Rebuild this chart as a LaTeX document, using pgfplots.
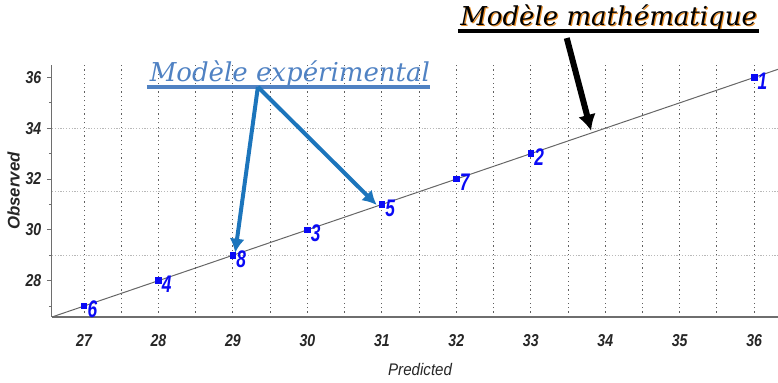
\documentclass[border=0pt]{standalone}
\usepackage{pgfplots}
\pgfplotsset{compat=1.18}
\usepackage{fontspec}
\setmainfont{Liberation Sans}
\newfontfamily\serifit{DejaVu Serif}
\usetikzlibrary{arrows.meta}
\definecolor{gridgray}{RGB}{95,95,95}
\definecolor{hgrid}{RGB}{185,185,185}
\definecolor{axgray}{RGB}{110,110,110}
\definecolor{ptblue}{RGB}{10,10,245}
\definecolor{expblue}{RGB}{80,130,195}
\definecolor{arrblue}{RGB}{28,117,188}
\definecolor{shadoworange}{RGB}{230,140,40}
\begin{document}
\begin{tikzpicture}
\begin{axis}[
  scale only axis, width=363pt, height=126pt,
  xmin=26.57, xmax=36.32, ymin=26.57, ymax=36.49,
  axis lines=left, axis line style={-, draw=axgray, line width=0.5pt},
  x axis line style={line width=1.1pt},
  /pgf/number format/assume math mode=true,
  xtick={27,28,29,30,31,32,33,34,35,36},
  minor xtick={27.5,28.5,29.5,30.5,31.5,32.5,33.5,34.5,35.5},
  ytick={28,30,32,34,36}, minor ytick={27,29,31,33,35},
  xmajorgrids, xminorgrids,
  major x grid style={draw=gridgray, line width=0.5pt, dash pattern=on 0.6pt off 1.6pt},
  minor x grid style={draw=gridgray, line width=0.5pt, dash pattern=on 0.6pt off 1.6pt},
  xtick style={draw=none},
  ytick style={draw=axgray, line width=0.5pt},
  tick align=outside, major tick length=2.5pt, minor tick length=1.5pt,
  extra y ticks={29,31.5,34}, extra y tick labels={},
  extra y tick style={ymajorgrids=true, major tick length=0pt,
    major grid style={draw=hgrid, line width=0.5pt, dash pattern=on 0.6pt off 0.8pt}},
  ticklabel style={font=\fontsize{8.6}{10}\selectfont\bfseries\itshape, text=black!85, xscale=0.82},
  xticklabel style={yshift=-2.5pt},
  yticklabel style={xshift=0pt},
  xlabel={Predicted}, ylabel={Observed},
  xlabel style={font=\fontsize{8.4}{10}\selectfont\itshape, text=black!85, xscale=0.9, at={(axis description cs:0.507,-0.21)}, anchor=center},
  ylabel style={font=\fontsize{8.4}{10}\selectfont\bfseries\itshape, text=black!85, at={(axis description cs:-0.053,0.5)}, anchor=center},
  clip=false,
]
\addplot[draw=black!60, line width=0.5pt] coordinates {(26.57,26.57) (36.32,36.32)};
\addplot[only marks, mark=square*, mark size=1.4pt, ptblue,
  point meta=explicit symbolic,
  nodes near coords,
  nodes near coords style={anchor=west, xshift=-0.8pt, yshift=-1.8pt, text=ptblue,
     font=\fontsize{12}{14}\selectfont\bfseries\itshape, xscale=0.72}]
  table[meta=l] {
x y l
27 27 6
28 28 4
29 29 8
30 30 3
31 31 5
32 32 7
33 33 2
36 36 1
};
% annotations
\path (rel axis cs:0,0) coordinate (A) (rel axis cs:1,1) coordinate (B);
\node[font=\serifit\itshape\fontsize{13}{15}\selectfont, text=expblue, anchor=base] at (axis cs:29.765,35.83) {Modèle expérimental};
\draw[expblue, line width=1.6pt] (axis cs:27.845,35.625) -- (axis cs:31.644,35.625);
\draw[arrblue, line width=2pt, -{Latex[length=7pt,width=7.5pt]}] (axis cs:29.335,35.625) -- (axis cs:29.03,29.1);
\draw[arrblue, line width=2pt, -{Latex[length=7pt,width=7.5pt]}] (axis cs:29.335,35.625) -- (axis cs:30.93,30.98);
\node[font=\serifit\itshape\fontsize{13}{15}\selectfont, text=shadoworange, anchor=base] at ([xshift=0.6pt,yshift=-0.5pt]axis cs:34.046,38.05) {Modèle mathématique};
\node[font=\serifit\itshape\fontsize{13}{15}\selectfont, text=black, anchor=base] at (axis cs:34.046,38.05) {Modèle mathématique};
\draw[black, line width=1.7pt] (axis cs:32.02,37.83) -- (axis cs:36.07,37.83);
\draw[black, line width=3pt, -{Latex[length=8pt,width=9pt]}] (axis cs:33.483,37.55) -- (axis cs:33.81,33.9);
\end{axis}
\pgfresetboundingbox
\path ([xshift=-26pt,yshift=-33pt]A) rectangle ([yshift=32.5pt]B);
\end{tikzpicture}
\end{document}
